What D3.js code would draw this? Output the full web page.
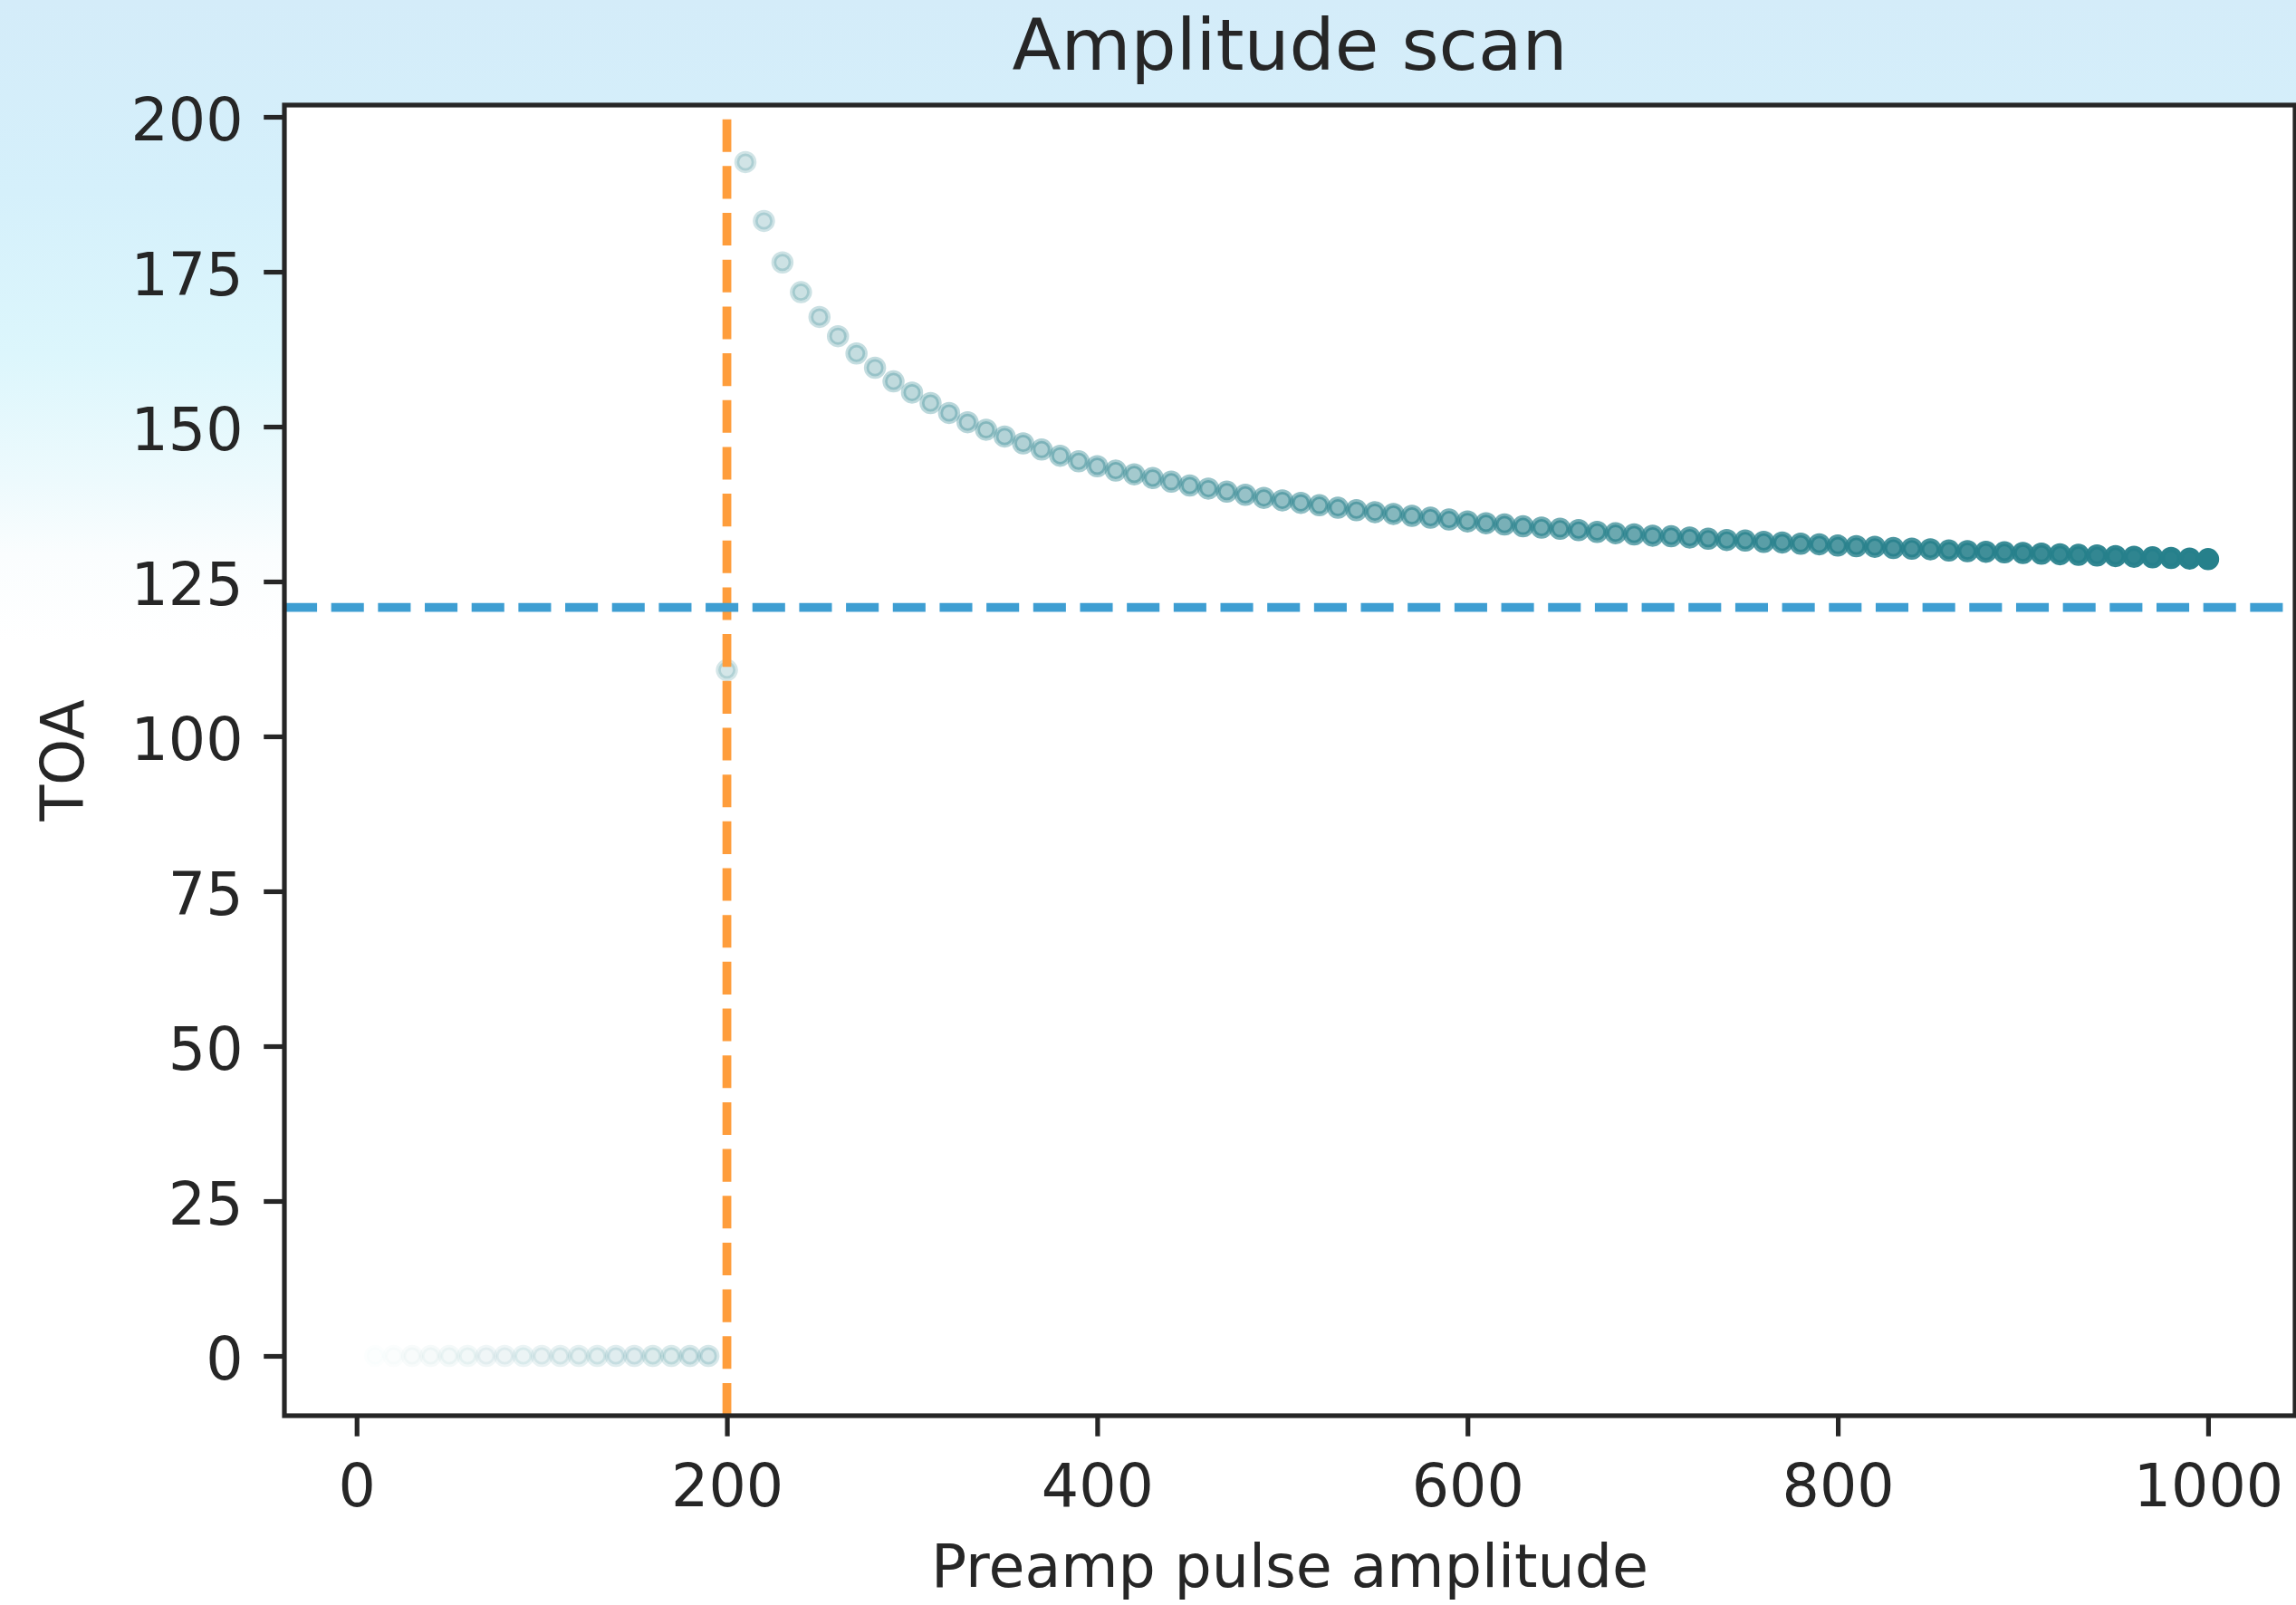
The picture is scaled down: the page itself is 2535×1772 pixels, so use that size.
<!DOCTYPE html>
<html>
<head>
<meta charset="utf-8">
<script src="https://cdn.jsdelivr.net/npm/d3@7"></script>
<style>
  html, body { margin: 0; padding: 0; background: #ffffff; }
  text { font-family: "DejaVu Sans", sans-serif; fill: #262626; }
</style>
</head>
<body>
<div id="chart"></div>
<script>
document.addEventListener("DOMContentLoaded", function () {

    // Pulse amplitudes of the scan (x values)
    var amplitude = [
      10, 20, 30, 40, 50, 60, 70, 80, 90, 100,
      110, 120, 130, 140, 150, 160, 170, 180, 190, 200,
      210, 220, 230, 240, 250, 260, 270, 280, 290, 300,
      310, 320, 330, 340, 350, 360, 370, 380, 390, 400,
      410, 420, 430, 440, 450, 460, 470, 480, 490, 500,
      510, 520, 530, 540, 550, 560, 570, 580, 590, 600,
      610, 620, 630, 640, 650, 660, 670, 680, 690, 700,
      710, 720, 730, 740, 750, 760, 770, 780, 790, 800,
      810, 820, 830, 840, 850, 860, 870, 880, 890, 900,
      910, 920, 930, 940, 950, 960, 970, 980, 990, 1000
    ];

    // Measured time of arrival for each amplitude
    var toa = [
      0, 0, 0, 0, 0, 0, 0, 0, 0, 0,
      0, 0, 0, 0, 0, 0, 0, 0, 0, 110.7,
      192.7, 183.2, 176.5, 171.7, 167.7, 164.6, 161.8, 159.5, 157.3, 155.5,
      153.8, 152.2, 150.7, 149.5, 148.4, 147.3, 146.3, 145.3, 144.4, 143.6,
      142.9, 142.3, 141.7, 141.1, 140.5, 140.0, 139.5, 139.0, 138.5, 138.1,
      137.7, 137.3, 136.9, 136.5, 136.2, 135.9, 135.6, 135.3, 135.0, 134.7,
      134.4, 134.2, 133.9, 133.7, 133.5, 133.3, 133.0, 132.8, 132.6, 132.4,
      132.3, 132.1, 131.9, 131.7, 131.6, 131.4, 131.3, 131.1, 131.0, 130.8,
      130.7, 130.6, 130.4, 130.3, 130.2, 130.0, 129.9, 129.8, 129.7, 129.6,
      129.5, 129.4, 129.3, 129.2, 129.1, 129.0, 128.9, 128.8, 128.7, 128.6
    ];

    // Threshold lines
    var toaLevel = [120.8];
    var ampThreshold = [200];

    // Tick values
    var xTicks = [0, 200, 400, 600, 800, 1000];
    var yTicks = [0, 25, 50, 75, 100, 125, 150, 175, 200];

    var data = amplitude.map(function (a, i) { return { amp: a, toa: toa[i] }; });

    // Canvas and plot area
    var w = 2535, h = 1772;
    var left = 314, top = 116, plotW = 2220, plotH = 1447;
    var pt = 6.5;  // pixels per point

    var xScale = d3.scaleLinear()
      .domain([-39, 1047])
      .range([0, plotW]);

    var yScale = d3.scaleLinear()
      .domain([-9.65, 201.9])
      .range([plotH, 0]);

    // Point opacity grows with the amplitude
    var alphaScale = d3.scaleLinear()
      .domain([0, 1000])
      .range([0, 1])
      .clamp(true);

    var svg = d3.select("#chart")
      .append("svg")
      .attr("width", w)
      .attr("height", h);

    // Light blue backdrop of the original screenshot
    var defs = svg.append("defs");
    var grad = defs.append("linearGradient")
      .attr("id", "bg")
      .attr("x1", 0).attr("y1", 0)
      .attr("x2", 0).attr("y2", 1);
    [[0, "#d4ecf9"], [0.12, "#d5f0fb"], [0.22, "#dcf6fc"], [0.30, "#edfafd"],
     [0.345, "#fafdfe"], [0.40, "#ffffff"], [1, "#ffffff"]].forEach(function (s) {
      grad.append("stop").attr("offset", s[0]).attr("stop-color", s[1]);
    });

    defs.append("clipPath")
      .attr("id", "plotClip")
      .append("rect")
      .attr("width", plotW)
      .attr("height", plotH);

    svg.append("rect")
      .attr("width", w)
      .attr("height", h)
      .attr("fill", "url(#bg)");

    var g = svg.append("g")
      .attr("transform", "translate(" + left + "," + top + ")");

    g.append("rect")
      .attr("width", plotW)
      .attr("height", plotH)
      .attr("fill", "#ffffff");

    var plot = g.append("g")
      .attr("clip-path", "url(#plotClip)");

    // Scatter points
    plot.selectAll("circle")
      .data(data)
      .enter()
      .append("circle")
      .attr("cx", d => xScale(d.amp))
      .attr("cy", d => yScale(d.toa))
      .attr("r", 9.5)
      .attr("fill", "#26808b")
      .attr("stroke", "#26808b")
      .attr("stroke-width", 5.5)
      .attr("fill-opacity", d => alphaScale(d.amp))
      .attr("stroke-opacity", d => alphaScale(d.amp));

    // Vertical threshold (drawn from the bottom up like axvline)
    plot.selectAll(".vline")
      .data(ampThreshold)
      .enter()
      .append("line")
      .attr("class", "vline")
      .attr("x1", d => xScale(d)).attr("x2", d => xScale(d))
      .attr("y1", plotH).attr("y2", 0)
      .attr("stroke", "#fe9d3c")
      .attr("stroke-width", 1.5 * pt)
      .attr("stroke-dasharray", (3.7 * 1.5 * pt) + "," + (1.6 * 1.5 * pt));

    // Horizontal level
    plot.selectAll(".hline")
      .data(toaLevel)
      .enter()
      .append("line")
      .attr("class", "hline")
      .attr("x1", 0).attr("x2", plotW)
      .attr("y1", d => yScale(d)).attr("y2", d => yScale(d))
      .attr("stroke", "#3e9ed2")
      .attr("stroke-width", 1.5 * pt)
      .attr("stroke-dasharray", (3.7 * 1.5 * pt) + "," + (1.6 * 1.5 * pt));

    // Axes
    var xAxis = d3.axisBottom(xScale)
      .tickValues(xTicks)
      .tickSize(3.5 * pt)
      .tickPadding(3.5 * pt + 8)
      .tickFormat(d3.format("d"));

    var yAxis = d3.axisLeft(yScale)
      .tickValues(yTicks)
      .tickSize(3.5 * pt)
      .tickPadding(3.5 * pt)
      .tickFormat(d3.format("d"));

    var gx = g.append("g")
      .attr("transform", "translate(0," + plotH + ")")
      .call(xAxis);

    var gy = g.append("g")
      .call(yAxis);

    [gx, gy].forEach(function (ax) {
      ax.select(".domain").remove();
      ax.selectAll(".tick line")
        .attr("stroke", "#262626")
        .attr("stroke-width", 0.8 * pt);
      ax.selectAll(".tick text")
        .attr("font-size", 65)
        .attr("font-family", "DejaVu Sans")
        .attr("fill", "#262626");
    });
    gy.selectAll(".tick text").attr("dy", "0.40em");

    // Frame around the plot
    g.append("rect")
      .attr("width", plotW)
      .attr("height", plotH)
      .attr("fill", "none")
      .attr("stroke", "#262626")
      .attr("stroke-width", 0.8 * pt);

    // Title and axis labels
    svg.append("text")
      .attr("x", left + plotW / 2)
      .attr("y", 77)
      .attr("text-anchor", "middle")
      .attr("font-size", 79)
      .text("Amplitude scan");

    svg.append("text")
      .attr("x", left + plotW / 2)
      .attr("y", 1752)
      .attr("text-anchor", "middle")
      .attr("font-size", 65)
      .text("Preamp pulse amplitude");

    svg.append("text")
      .attr("transform", "translate(92," + (top + plotH / 2) + ") rotate(-90)")
      .attr("text-anchor", "middle")
      .attr("font-size", 65)
      .text("TOA");
});
</script>
</body>
</html>
